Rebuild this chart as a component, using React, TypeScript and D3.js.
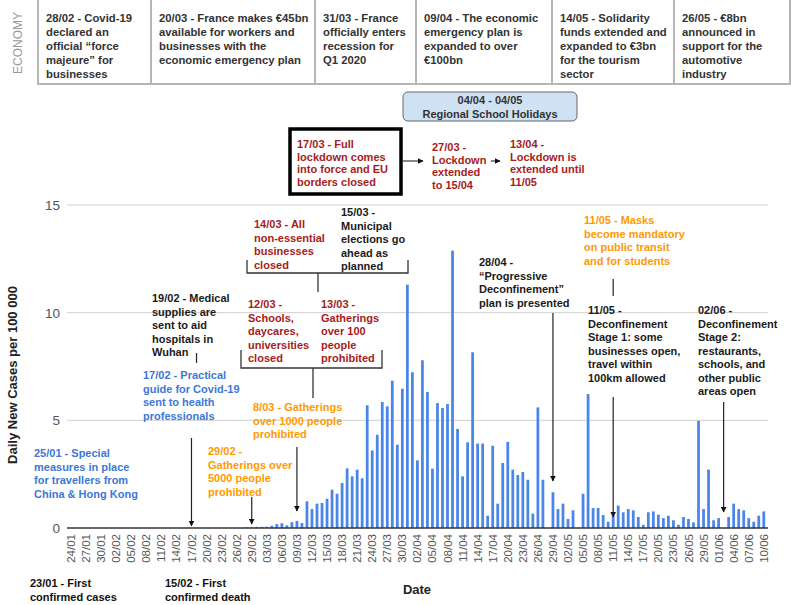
import React from "react";
import * as d3 from "d3";

// ---------- DATA ----------
const startDate = new Date(2020, 0, 24);
const endDate = new Date(2020, 5, 11);
const dates: Date[] = d3.timeDay.range(startDate, endDate);

// daily new cases per 100 000 (24/01 .. 10/06)
const cases: number[] = [
  0, 0, 0, 0, 0, 0, 0, 0, 0, 0,
  0, 0, 0, 0, 0, 0, 0, 0, 0, 0,
  0, 0, 0, 0, 0, 0, 0, 0, 0, 0,
  0, 0, 0, 0, 0,
  0.03, 0.02, 0.05, 0.05, 0.06, 0.1, 0.18, 0.22, 0.12, 0.27,
  0.33, 0.23, 1.24, 0.88, 1.13, 1.16, 1.36, 1.78, 1.59, 2.09,
  2.77, 2.4, 2.71, 2.31, 5.7, 3.6, 4.33, 5.85, 5.65, 6.84,
  3.87, 6.47, 11.3,
  7.23, 3.14, 7.79, 6.32, 2.76, 5.8, 5.57, 5.76, 12.88, 4.6,
  2.4, 3.98, 8.16, 3.92, 3.92, 0.57, 3.82, 1.13, 3.02, 4.0,
  2.71, 2.46, 2.6, 2.24, 0.67, 5.6, 2.24, 0, 1.66, 0.88,
  1.13, 0.42, 0.82, 0, 1.59, 6.22, 0.93, 0.93, 0.6, 0.29,
  0.67, 1.04, 0.73, 0.88, 0.82, 0.51, 0.15, 0.73, 0.77, 0.62,
  0.46, 0.57, 0.36, 0.15, 0.51, 0.42, 0.26, 4.98, 0.88, 2.71,
  0.36, 0.46, 0, 0.51, 1.13, 0.88, 0.82, 0.46, 0.29, 0.57,
  0.77,
];

const yTicks = [0, 5, 10, 15];

const economyCells: string[][] = [
  ["28/02 - Covid-19", "declared an", "official \u201cforce", "majeure\u201d for", "businesses"],
  ["20/03 - France makes \u20ac45bn", "available for workers and", "businesses with the", "economic emergency plan"],
  ["31/03 - France", "officially enters", "recession for", "Q1 2020"],
  ["09/04 - The economic", "emergency plan is", "expanded to over", "\u20ac100bn"],
  ["14/05 - Solidarity", "funds extended and", "expanded to \u20ac3bn", "for the tourism", "sector"],
  ["26/05 - \u20ac8bn", "announced in", "support for the", "automotive", "industry"],
];

const holidayLines = ["04/04 - 04/05", "Regional School Holidays"];
const lockdownLines = [
  ["17/03 - Full", "lockdown comes", "into force and EU", "borders closed"],
  ["27/03 -", "Lockdown", "extended", "to 15/04"],
  ["13/04 -", "Lockdown is", "extended until", "11/05"],
];

type Ann = { id: string; lines: string[]; color: string; target?: string; mark?: "arrow" | "tick" };
const BLUE = "#3c78d8";
const ORANGE = "#ff9900";
const RED = "#a61c1c";
const BLACK = "#1a1a1a";

const annotations: Ann[] = [
  { id: "a2501", lines: ["25/01 - Special", "measures in place", "for travellers from", "China & Hong Kong"], color: BLUE },
  { id: "a1702", lines: ["17/02 - Practical", "guide for Covid-19", "sent to health", "professionals"], color: BLUE, target: "17/02", mark: "arrow" },
  { id: "a1902", lines: ["19/02 - Medical", "supplies are", "sent to aid", "hospitals in", "Wuhan"], color: BLACK, target: "18/02", mark: "tick" },
  { id: "a2902", lines: ["29/02 -", "Gatherings over", "5000 people", "prohibited"], color: ORANGE, target: "29/02", mark: "arrow" },
  { id: "a0803", lines: ["8/03 - Gatherings", "over 1000 people", "prohibited"], color: ORANGE, target: "09/03", mark: "arrow" },
  { id: "a1203", lines: ["12/03 -", "Schools,", "daycares,", "universities", "closed"], color: RED },
  { id: "a1303", lines: ["13/03 -", "Gatherings", "over 100", "people", "prohibited"], color: RED },
  { id: "a1403", lines: ["14/03 - All", "non-essential", "businesses", "closed"], color: RED },
  { id: "a1503", lines: ["15/03 -", "Municipal", "elections go", "ahead as", "planned"], color: BLACK },
  { id: "a2804", lines: ["28/04 -", "\u201cProgressive", "Deconfinement\u201d", "plan is presented"], color: BLACK, target: "29/04", mark: "arrow" },
  { id: "a1105m", lines: ["11/05 - Masks", "become mandatory", "on public transit", "and for students"], color: ORANGE, target: "11/05", mark: "tick" },
  { id: "a1105", lines: ["11/05 -", "Deconfinement", "Stage 1: some", "businesses open,", "travel within", "100km allowed"], color: BLACK, target: "11/05", mark: "arrow" },
  { id: "a0206", lines: ["02/06 -", "Deconfinement", "Stage 2:", "restaurants,", "schools, and", "other public", "areas open"], color: BLACK, target: "02/06", mark: "arrow" },
];

const bottomNotes = [
  ["23/01 - First", "confirmed cases"],
  ["15/02 - First", "confirmed death"],
];

// ---------- LAYOUT ----------
const W = 791;
const H = 605;
const FONT = "'Liberation Sans', Arial, Helvetica, sans-serif";
const annLayout: Record<string, { x: number; y: number; y0?: number; y1?: number }> = {
  a2501: { x: 34, y: 457 },
  a1702: { x: 143, y: 379, y0: 438, y1: 526 },
  a1902: { x: 152, y: 302, y0: 353, y1: 363 },
  a2902: { x: 208, y: 455, y0: 497, y1: 524 },
  a0803: { x: 253, y: 411, y0: 447, y1: 511 },
  a1203: { x: 248, y: 308 },
  a1303: { x: 321, y: 308 },
  a1403: { x: 254, y: 228 },
  a1503: { x: 341, y: 216 },
  a2804: { x: 479, y: 266, y0: 313, y1: 481 },
  a1105m: { x: 584, y: 224, y0: 279, y1: 296 },
  a1105: { x: 588, y: 314, y0: 397, y1: 517 },
  a0206: { x: 698, y: 314, y0: 402, y1: 512 },
};
const cellEdges = [38, 151, 315, 416, 552, 674, 790];

export default function App() {
  const fmt = d3.timeFormat("%d/%m");
  const labels = dates.map((d) => fmt(d));
  const x = d3
    .scaleBand<string>()
    .domain(labels)
    .range([68.5, 766.3])
    .paddingInner(0.45)
    .paddingOuter(0.225);
  const y = d3.scaleLinear().domain([0, 15]).range([528, 205]);
  const cx = (l: string) => (x(l) ?? 0) + x.bandwidth() / 2;
  const tickLabels = labels.filter((_, i) => i % 3 === 0);
  const lh = 13.5;

  const bracket = (x0: number, x1: number, yb: number, ytop: number, stemX: number, stemY: number) => (
    <g stroke="#333" strokeWidth={1.3} fill="none">
      <path d={`M${x0},${ytop}V${yb}H${x1}V${ytop}`} />
      <path d={`M${stemX},${yb}V${stemY}`} />
    </g>
  );

  return (
    <svg
      width={W}
      height={H}
      style={{ position: "absolute", left: 0, top: 0, background: "#fff" }}
      fontFamily={FONT}
    >
      <defs>
        <marker id="ah" viewBox="0 0 10 10" refX="9" refY="5" markerWidth="6" markerHeight="6" orient="auto" markerUnits="userSpaceOnUse">
          <path d="M0,0L10,5L0,10z" fill="#111" />
        </marker>
      </defs>
      <rect x={0} y={0} width={W} height={H} fill="#fff" />

      {/* Economy table */}
      <g>
        <rect x={cellEdges[0]} y={-2} width={cellEdges[6] - cellEdges[0]} height={86} fill="none" stroke="#b5b5b5" strokeWidth={2} />
        {cellEdges.slice(1, 6).map((e) => (
          <line key={e} x1={e} x2={e} y1={-2} y2={84} stroke="#b5b5b5" strokeWidth={2} />
        ))}
        {economyCells.map((lines, i) => (
          <text key={i} x={cellEdges[i] + 8} y={22} fontSize={11.3} fontWeight="bold" fill="#333">
            {lines.map((l, j) => (
              <tspan key={j} x={cellEdges[i] + 8} dy={j === 0 ? 0 : 13.9}>
                {l}
              </tspan>
            ))}
          </text>
        ))}
        <text transform="translate(21.5,43) rotate(-90)" textAnchor="middle" fontSize={12} fill="#999">
          ECONOMY
        </text>
      </g>

      {/* Holidays box */}
      <rect x={403} y={92} width={174} height={29} rx={5} fill="#cfe2f3" stroke="#666" strokeWidth={1} />
      {holidayLines.map((l, i) => (
        <text key={i} x={490} y={104 + i * 14} textAnchor="middle" fontSize={11} fontWeight="bold" fill="#333">
          {l}
        </text>
      ))}

      {/* Lockdown box & chain */}
      <rect x={290} y={129} width={111} height={65} fill="none" stroke="#000" strokeWidth={3.5} />
      {lockdownLines.map((lines, i) => {
        const lx = [297, 432, 510][i];
        return (
          <text key={i} x={lx} y={[148, 151, 148][i]} fontSize={11} fontWeight="bold" fill={RED}>
            {lines.map((l, j) => (
              <tspan key={j} x={lx} dy={j === 0 ? 0 : 12.7}>
                {l}
              </tspan>
            ))}
          </text>
        );
      })}
      <line x1={403} x2={423} y1={161} y2={161} stroke="#111" strokeWidth={1} markerEnd="url(#ah)" />
      <line x1={491} x2={500} y1={161} y2={161} stroke="#111" strokeWidth={1} markerEnd="url(#ah)" />

      {/* Grid */}
      {yTicks.map((t) => (
        <g key={t}>
          {t > 0 && <line x1={67} x2={768} y1={y(t)} y2={y(t)} stroke="#d0d0d0" strokeWidth={1} />}
          <text x={60} y={y(t) + 5} textAnchor="end" fontSize={13.5} fill="#555">
            {t}
          </text>
        </g>
      ))}

      {/* Bars */}
      {cases.map((v, i) =>
        v > 0 ? (
          <rect
            key={i}
            x={x(labels[i])}
            width={x.bandwidth()}
            y={y(v)}
            height={y(0) - y(v)}
            fill="#4a86e8"
          />
        ) : null
      )}
      <line x1={67} x2={768} y1={y(0)} y2={y(0)} stroke="#333" strokeWidth={1.5} />

      {/* X tick labels */}
      {tickLabels.map((l) => (
        <text
          key={l}
          transform={`translate(${cx(l)},534) rotate(-90)`}
          textAnchor="end"
          dy="0.35em"
          fontSize={11.5}
          fill="#555"
        >
          {l}
        </text>
      ))}

      {/* Axis titles */}
      <text transform="translate(17,375) rotate(-90)" textAnchor="middle" fontSize={13} fontWeight="bold" fill="#222">
        Daily New Cases per 100 000
      </text>
      <text x={417} y={594} textAnchor="middle" fontSize={13} fontWeight="bold" fill="#222">
        Date
      </text>

      {/* Brackets */}
      {bracket(241, 382, 368, 350, 313, 398)}
      {bracket(247, 408, 273, 260, 318, 292)}

      {/* Annotations */}
      {annotations.map((a) => {
        const L = annLayout[a.id];
        const tx = a.target ? cx(a.target) : 0;
        return (
          <g key={a.id}>
            <text x={L.x} y={L.y} fontSize={11} fontWeight="bold" fill={a.color}>
              {a.lines.map((l, j) => (
                <tspan key={j} x={L.x} dy={j === 0 ? 0 : lh}>
                  {l}
                </tspan>
              ))}
            </text>
            {a.mark && (
              <line
                x1={tx}
                x2={tx}
                y1={L.y0}
                y2={L.y1}
                stroke="#222"
                strokeWidth={1.2}
                markerEnd={a.mark === "arrow" ? "url(#ah)" : undefined}
              />
            )}
          </g>
        );
      })}

      {/* Bottom notes */}
      {bottomNotes.map((lines, i) => {
        const bx = [30, 165][i];
        return (
          <text key={i} x={bx} y={587} fontSize={11} fontWeight="bold" fill="#111">
            {lines.map((l, j) => (
              <tspan key={j} x={bx} dy={j === 0 ? 0 : 14}>
                {l}
              </tspan>
            ))}
          </text>
        );
      })}
    </svg>
  );
}
